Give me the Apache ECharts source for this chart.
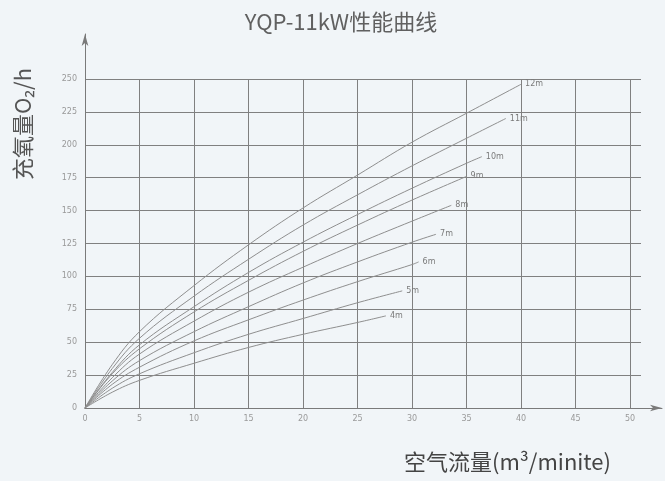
<!DOCTYPE html>
<html>
<head>
<meta charset="utf-8">
<script src="https://cdn.jsdelivr.net/npm/echarts@6/dist/echarts.min.js"></script>
<style>
html,body{margin:0;padding:0;background:#f1f5f8;}
#c{width:665px;height:481px;}
</style>
</head>
<body>
<div id="c"></div>
<script>
// Curve names (depth) and values: [airflow m3/min, O2 kg/h]
var seriesNames = ['12m','11m','10m','9m','8m','7m','6m','5m','4m'];
var x12 = [0,2.5,5,10,15,20,25,30,35,40];     var y12 = [0,33,58,93,124,152,177,202,224,246];
var x11 = [0,2.5,5,10,15,20,25,30,35,38.6];   var y11 = [0,30,53,85,113,139,162,184,205,220];
var x10 = [0,2.5,5,10,15,20,25,30,35,36.4];   var y10 = [0,27,48,77,103,126,147,167,186,191];
var x9  = [0,2.5,5,10,15,20,25,30,35];        var y9  = [0,26,45,73,97,119,139,158,176];
var x8  = [0,2.5,5,10,15,20,25,30,33.6];      var y8  = [0,23,41,66,88,107,125,142,154];
var x7  = [0,2.5,5,10,15,20,25,30,32.2];      var y7  = [0,20.5,36,58,77,95,111,126,132];
var x6  = [0,2.5,5,10,15,20,25,30,30.6];      var y6  = [0,18,31,51,67,82,96,109,111];
var x5  = [0,2.5,5,10,15,20,25,29.1];         var y5  = [0,15,26,42,56,68,80,89];
var x4  = [0,2.5,5,10,15,20,25,27.6];         var y4  = [0,12,21,34,46,56,65,70];
var xs = [x12,x11,x10,x9,x8,x7,x6,x5,x4];
var ys = [y12,y11,y10,y9,y8,y7,y6,y5,y4];
var xTicks = {min:0, max:51, interval:5};
var yTicks = {min:0, max:250, interval:25};
var titleText = 'YQP-11kW性能曲线';
var yName = '充氧量O₂/h';
var xName = '空气流量(m³/minite)';

function pairs(a,b){ return a.map(function(v,i){ return [v,b[i]]; }); }

var chart = echarts.init(document.getElementById('c'));
var series = seriesNames.map(function(n,i){
  return {
    name:n, type:'line', xAxisIndex:0, yAxisIndex:0,
    data: pairs(xs[i], ys[i]),
    smooth:0.4, showSymbol:false, silent:true,
    lineStyle:{color:'#8e8e8e', width:1},
    endLabel:{show:true, formatter:'{a}', fontSize:8, color:'#7a7a7a', distance:4,
      fontFamily:'DejaVu Sans'}
  };
});
var fontCJK = '"Noto Sans CJK SC", "Noto Sans", sans-serif';
chart.setOption({
  backgroundColor:'#f1f5f8',
  animation:false,
  title:{text:titleText, left:336, top:6, textAlign:'center',
    textStyle:{fontSize:22, fontWeight:'normal', color:'#606060', fontFamily:fontCJK}},
  grid:[
    {left:85, right:24, top:79, bottom:73},
    {left:85, right:3, top:34, bottom:73}
  ],
  xAxis:[
    {type:'value', gridIndex:0, min:xTicks.min, max:xTicks.max, interval:xTicks.interval,
     axisLine:{show:true, onZero:false, lineStyle:{color:'#7a7a7a', width:1}},
     axisTick:{show:false},
     axisLabel:{showMaxLabel:false, fontSize:8, color:'#999', margin:7, fontFamily:'DejaVu Sans'},
     splitLine:{show:true, showMinLine:false, showMaxLine:false, lineStyle:{color:'#808080', width:1}}},
    {type:'value', gridIndex:1, min:0, max:1,
     axisLine:{show:true, onZero:false, symbol:['none','arrow'], symbolSize:[5,12],
       lineStyle:{color:'#7a7a7a', width:1}},
     axisTick:{show:false}, axisLabel:{show:false}, splitLine:{show:false}}
  ],
  yAxis:[
    {type:'value', gridIndex:0, min:yTicks.min, max:yTicks.max, interval:yTicks.interval,
     axisLine:{show:true, onZero:false, lineStyle:{color:'#7a7a7a', width:1}},
     axisTick:{show:false},
     axisLabel:{fontSize:8, color:'#999', margin:8, fontFamily:'DejaVu Sans'},
     splitLine:{show:true, showMinLine:false, lineStyle:{color:'#808080', width:1}}},
    {type:'value', gridIndex:1, min:0, max:1,
     axisLine:{show:true, onZero:false, symbol:['none','arrow'], symbolSize:[5,12],
       lineStyle:{color:'#7a7a7a', width:1}},
     axisTick:{show:false}, axisLabel:{show:false}, splitLine:{show:false}}
  ],
  graphic:[
    {type:'text', x:12, y:180, rotation:Math.PI/2,
     style:{text:yName, fontSize:22, fill:'#555', fontFamily:fontCJK}},
    {type:'text', x:404, y:451,
     style:{text:xName, fontSize:22, fill:'#444', fontFamily:fontCJK, letterSpacing:0.6}}
  ],
  series:series
});
</script>
</body>
</html>
